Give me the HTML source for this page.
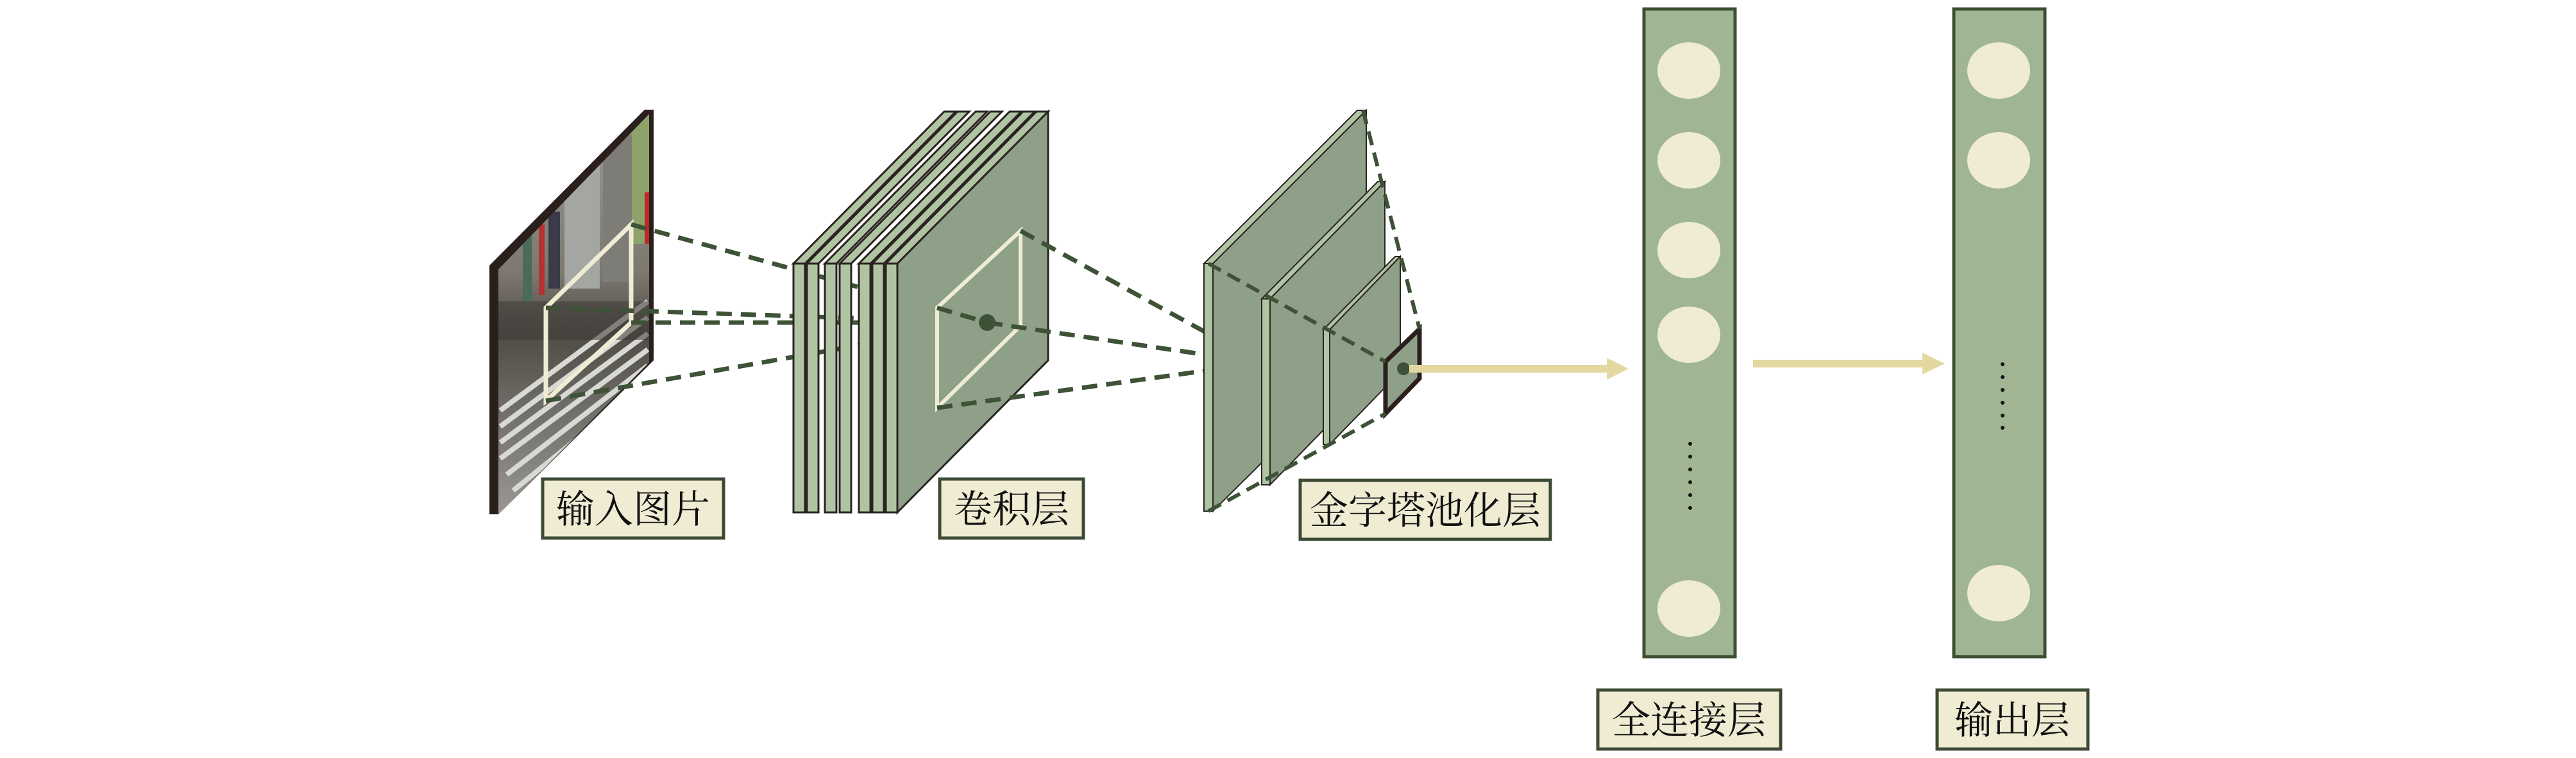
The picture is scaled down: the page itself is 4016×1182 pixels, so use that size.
<!DOCTYPE html>
<html><head><meta charset="utf-8"><style>
html,body{margin:0;padding:0;background:#fff;}
svg{display:block}
text{font-family:"Liberation Serif","Noto Serif CJK SC",serif;font-size:60px;fill:#111}
</style></head><body>
<svg width="4016" height="1182" viewBox="0 0 4016 1182" xmlns="http://www.w3.org/2000/svg">
<defs>
<clipPath id="img"><polygon points="777,420 1012,178 1012,565 777,802"/></clipPath>
<linearGradient id="sky" x1="0" y1="0" x2="0" y2="1">
<stop offset="0" stop-color="#9a9c94"/><stop offset="0.4" stop-color="#7c7870"/><stop offset="0.55" stop-color="#4f4b45"/><stop offset="0.7" stop-color="#6a6862"/><stop offset="1" stop-color="#9c9a96"/></linearGradient>
</defs>
<!-- input image -->
<polygon points="763,414 1005,171 1019,171 1019,562 777,802 763,802" fill="#2a1f1d"/>
<g clip-path="url(#img)">
<rect x="760" y="170" width="270" height="640" fill="url(#sky)"/>
<rect x="880" y="250" width="55" height="200" fill="#a4a6a2"/>
<rect x="940" y="210" width="45" height="230" fill="#7e7c76"/>
<rect x="985" y="180" width="30" height="200" fill="#8ea36a"/>
<rect x="840" y="350" width="9" height="110" fill="#b83030"/>
<rect x="1005" y="300" width="8" height="80" fill="#c02828"/>
<rect x="815" y="340" width="14" height="130" fill="#4a6a5a"/>
<rect x="855" y="330" width="18" height="120" fill="#3a3a48"/>
<g stroke="#d8d8d4" stroke-width="8">
<line x1="780" y1="640" x2="1010" y2="470"/>
<line x1="780" y1="665" x2="1010" y2="495"/><line x1="780" y1="690" x2="1010" y2="520"/>
<line x1="780" y1="715" x2="1010" y2="545"/><line x1="790" y1="740" x2="1010" y2="570"/>
<line x1="800" y1="765" x2="1010" y2="595"/><line x1="810" y1="790" x2="1010" y2="620"/>
</g>
<rect x="760" y="470" width="270" height="60" fill="#3e3b37" opacity="0.55"/>
</g>
<polygon points="851,480 984,350 984,503 851,625" fill="none" stroke="#f0ecd4" stroke-width="7"/>
<!-- dashed lines input -> conv -->
<g stroke="#3d5236" stroke-width="7" stroke-dasharray="24,14" fill="none">
<line x1="984" y1="350" x2="1539" y2="503"/>
<line x1="851" y1="480" x2="1539" y2="503"/>
<line x1="984" y1="503" x2="1539" y2="503"/>
<line x1="851" y1="625" x2="1539" y2="503"/>
</g>
<!-- conv stack -->
<g stroke="#2a2420" stroke-width="3">
<g fill="#b0c4a4">
<polygon points="1237,411 1472,174 1490,174 1255,411"/><rect x="1237" y="411" width="18" height="388"/>
<polygon points="1258,411 1493,174 1511,174 1276,411"/><rect x="1258" y="411" width="18" height="388"/>
<polygon points="1286,411 1521,174 1539,174 1304,411"/><rect x="1286" y="411" width="18" height="388"/>
<polygon points="1309,411 1544,174 1562,174 1327,411"/><rect x="1309" y="411" width="18" height="388"/>
<polygon points="1339,411 1574,174 1592,174 1357,411"/><rect x="1339" y="411" width="18" height="388"/>
<polygon points="1360,411 1595,174 1613,174 1378,411"/><rect x="1360" y="411" width="18" height="388"/>
<polygon points="1381,411 1616,174 1634,174 1399,411"/><rect x="1381" y="411" width="18" height="388"/>
</g>
<polygon points="1399,411 1634,174 1634,562 1399,799" fill="#8fa088"/>
</g>
<polygon points="1461,480 1591,360 1591,508 1461,636" fill="none" stroke="#f0ecd4" stroke-width="6"/>
<g stroke="#3d5236" stroke-width="7" stroke-dasharray="24,14" fill="none">
<line x1="1461" y1="480" x2="1539" y2="503"/>
<line x1="1591" y1="360" x2="1967" y2="566"/>
<line x1="1539" y1="503" x2="1967" y2="566"/>
<line x1="1461" y1="636" x2="1967" y2="566"/>
</g>
<circle cx="1539" cy="503" r="13" fill="#3d5236"/>
<!-- pyramid -->
<g stroke="#2a2420" stroke-width="2">
<polygon points="1877,411 2116,172 2130,172 1891,411" fill="#b0c4a4"/>
<rect x="1877" y="411" width="14" height="386" fill="#b0c4a4"/>
<polygon points="1891,411 2130,172 2130,560 1891,797" fill="#8fa088"/>
<polygon points="1967,466 2148,283 2159,283 1980,466" fill="#b0c4a4"/>
<rect x="1967" y="466" width="13" height="290" fill="#b0c4a4"/>
<polygon points="1980,466 2159,283 2159,572 1980,756" fill="#8fa088"/>
<polygon points="2063,514 2175,400 2183,400 2073,514" fill="#b0c4a4"/>
<rect x="2063" y="514" width="10" height="179" fill="#b0c4a4"/>
<polygon points="2073,514 2183,400 2183,580 2073,693" fill="#8fa088"/>
</g>
<polygon points="2160,564 2213,513 2213,590 2160,645" fill="#8fa088" stroke="#2a1f1d" stroke-width="7"/>
<circle cx="2188" cy="575" r="10" fill="#3d5236"/>
<g stroke="#3d5236" stroke-width="6" stroke-dasharray="22,12" fill="none">
<line x1="1884" y1="411" x2="2160" y2="564"/>
<line x1="2125" y1="172" x2="2213" y2="513"/>
<line x1="1884" y1="797" x2="2160" y2="645"/>
</g>
<!-- arrows -->
<g fill="#e3d9a0">
<rect x="2197" y="569" width="310" height="12"/>
<polygon points="2505,558 2539,575 2505,592"/>
<rect x="2733" y="561" width="266" height="12"/>
<polygon points="2997,550 3032,567 2997,584"/>
</g>
<!-- FC column -->
<rect x="2563" y="14" width="142" height="1010" fill="#a0b594" stroke="#3d4f33" stroke-width="5"/>
<g fill="#f0ecd4">
<ellipse cx="2633" cy="110" rx="49" ry="44"/>
<ellipse cx="2633" cy="250" rx="49" ry="44"/>
<ellipse cx="2633" cy="390" rx="49" ry="44"/>
<ellipse cx="2633" cy="522" rx="49" ry="44"/>
<ellipse cx="2633" cy="949" rx="49" ry="44"/>
</g>
<g fill="#111">
<circle cx="2635" cy="692" r="3"/><circle cx="2635" cy="712" r="3"/><circle cx="2635" cy="732" r="3"/>
<circle cx="2635" cy="752" r="3"/><circle cx="2635" cy="772" r="3"/><circle cx="2635" cy="792" r="3"/>
</g>
<!-- output column -->
<rect x="3046" y="14" width="142" height="1010" fill="#a0b594" stroke="#3d4f33" stroke-width="5"/>
<g fill="#f0ecd4">
<ellipse cx="3116" cy="110" rx="49" ry="44"/>
<ellipse cx="3116" cy="250" rx="49" ry="44"/>
<ellipse cx="3116" cy="925" rx="49" ry="44"/>
</g>
<g fill="#111">
<circle cx="3122" cy="568" r="3"/><circle cx="3122" cy="588" r="3"/><circle cx="3122" cy="608" r="3"/>
<circle cx="3122" cy="628" r="3"/><circle cx="3122" cy="648" r="3"/><circle cx="3122" cy="667" r="3"/>
</g>
<!-- labels -->
<g fill="#f0ecd4" stroke="#3d4a35" stroke-width="5">
<rect x="846" y="747" width="282" height="92"/>
<rect x="1465" y="747" width="224" height="92"/>
<rect x="2027" y="749" width="390" height="92"/>
<rect x="2491" y="1076" width="285" height="92"/>
<rect x="3020" y="1076" width="235" height="92"/>
</g>
<g text-anchor="middle">
<text x="987" y="815">输入图片</text>
<text x="1577" y="815">卷积层</text>
<text x="2222" y="817">金字塔池化层</text>
<text x="2633" y="1144">全连接层</text>
<text x="3137" y="1144">输出层</text>
</g>
</svg>
</body></html>
